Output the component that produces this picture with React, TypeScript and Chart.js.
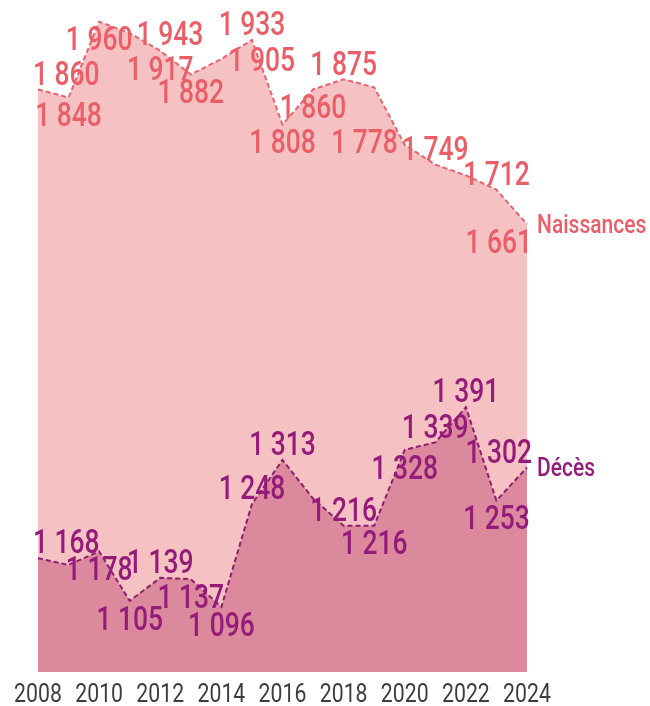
import React, { useEffect, useRef } from "react";
import { Chart, registerables } from "chart.js";

Chart.register(...registerables);

const years = ["2008","2009","2010","2011","2012","2013","2014","2015","2016","2017","2018","2019","2020","2021","2022","2023","2024"];
const naissances = [1860, 1848, 1960, 1943, 1917, 1882, 1905, 1933, 1808, 1860, 1875, 1863, 1778, 1749, 1733, 1712, 1661];
const deces = [1168, 1158, 1178, 1105, 1139, 1137, 1096, 1248, 1313, 1256, 1216, 1216, 1328, 1339, 1391, 1253, 1302];
// label placement per point ("none" = not labelled)
const naisPlacement = ["top","bottom","bottom","right","bottom","bottom","right","top","bottom","bottom","top","none","left","top","none","top","bottom"];
const decesPlacement = ["top","none","bottom","bottom","top","bottom","bottom","top","top","none","top","bottom","bottom","top","top","bottom","top"];
const seriesNames = ["Naissances", "Décès"];

const FONT = "Roboto, 'DejaVu Sans', sans-serif";
const NAIS_FILL = "#f6c1c3";
const NAIS_LINE = "#e8646d";
const NAIS_TEXT = "#ea5e67";
const DECES_FILL = "#dc899e";
const DECES_LINE = "#8e1f70";
const DECES_TEXT = "#951b7a";
const TICK_TEXT = "#3d3d3d";

const fmt = (v: number) => String(v).replace(/\B(?=(\d{3})+(?!\d))/g, " ");

// draw horizontally condensed text (left aligned at x, alphabetic baseline y)
function drawNarrow(ctx: CanvasRenderingContext2D, text: string, x: number, y: number, sx: number) {
  ctx.save();
  ctx.translate(x, y);
  ctx.scale(sx, 1);
  ctx.fillText(text, 0, 0);
  ctx.restore();
}

const LABEL_SX = 0.8;
const NAME_SX = 0.84;
const TICK_SX = 0.85;

const labelPlugin = {
  id: "valueLabels",
  afterDatasetsDraw(chart: any) {
    const ctx = chart.ctx;
    const area = chart.chartArea;
    const placements = [naisPlacement, decesPlacement];
    const colors = [NAIS_TEXT, DECES_TEXT];
    ctx.save();
    ctx.textBaseline = "alphabetic";
    ctx.textAlign = "left";
    chart.data.datasets.forEach((ds: any, di: number) => {
      const meta = chart.getDatasetMeta(di);
      ctx.fillStyle = colors[di];
      ctx.font = `500 33px ${FONT}`;
      meta.data.forEach((pt: any, i: number) => {
        const place = placements[di][i];
        if (place === "none") return;
        const text = fmt(ds.data[i]);
        const w = ctx.measureText(text).width * LABEL_SX;
        let left = pt.x - w / 2;
        let base = pt.y;
        if (place === "top") base = pt.y - 4.75;
        else if (place === "bottom") base = pt.y + 28.75;
        else if (place === "right") { left = pt.x + 7; base = pt.y + 11.75; }
        else if (place === "left") { left = pt.x - 7 - w; base = pt.y + 8; }
        if (left < area.left - 5) left = area.left - 5;
        if (left + w > area.right + 5) left = area.right + 5 - w;
        drawNarrow(ctx, text, left, base, LABEL_SX);
      });
      const last = meta.data[meta.data.length - 1];
      ctx.font = `500 25px ${FONT}`;
      drawNarrow(ctx, seriesNames[di], area.right + 10, last.y + 9, NAME_SX);
    });
    // x axis year labels (every other year)
    const xs = chart.scales.x;
    ctx.fillStyle = TICK_TEXT;
    ctx.font = `400 25px ${FONT}`;
    years.forEach((y, i) => {
      if (i % 2 !== 0) return;
      const w = ctx.measureText(y).width * TICK_SX;
      drawNarrow(ctx, y, xs.getPixelForValue(i) - w / 2, 702, TICK_SX);
    });
    ctx.restore();
  },
};

export default function App() {
  const ref = useRef<HTMLCanvasElement | null>(null);
  useEffect(() => {
    if (!ref.current) return;
    const chart = new Chart(ref.current, {
      type: "line",
      data: {
        labels: years,
        datasets: [
          {
            label: seriesNames[0],
            data: naissances,
            borderColor: NAIS_LINE,
            backgroundColor: NAIS_FILL,
            borderWidth: 2,
            borderDash: [5, 3],
            fill: "start",
            pointRadius: 0,
            tension: 0,
            order: 2,
          },
          {
            label: seriesNames[1],
            data: deces,
            borderColor: DECES_LINE,
            backgroundColor: DECES_FILL,
            borderWidth: 2,
            borderDash: [5, 3],
            fill: "start",
            pointRadius: 0,
            tension: 0,
            order: 1,
          },
        ],
      },
      options: {
        animation: false,
        responsive: false,
        devicePixelRatio: 1,
        layout: { padding: { left: 38, right: 123, top: 0, bottom: 0 } },
        plugins: { legend: { display: false }, tooltip: { enabled: false } },
        scales: {
          x: {
            type: "category",
            offset: false,
            grid: { display: false, drawTicks: false },
            border: { display: false },
            ticks: { display: false, autoSkip: false, maxRotation: 0 },
            afterFit: (scale: any) => { scale.height = 34; },
          },
          y: {
            display: false,
            min: 1000,
            max: 1992,
          },
        },
      },
      plugins: [labelPlugin],
    } as any);
    return () => chart.destroy();
  }, []);
  return (
    <div style={{ position: "absolute", left: 0, top: 0, width: 650, height: 706, overflow: "hidden" }}>
      <canvas ref={ref} width={650} height={706} style={{ width: 650, height: 706, display: "block" }} />
    </div>
  );
}
